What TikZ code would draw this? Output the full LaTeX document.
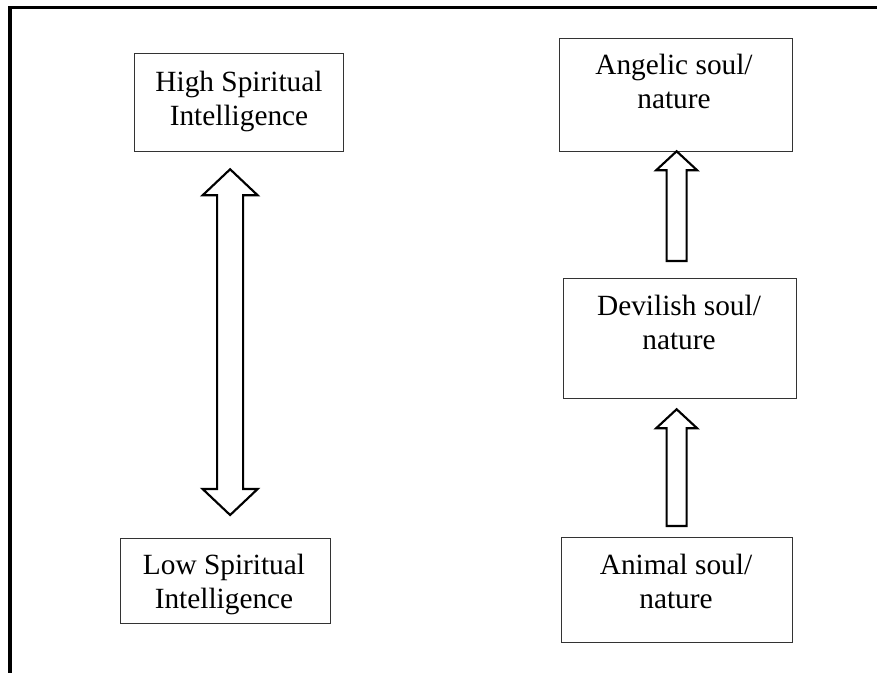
\documentclass[tikz,border=0pt]{standalone}
\usepackage{fontspec}
\setmainfont{Liberation Serif}
\usetikzlibrary{calc}

\tikzset{
  soulbox/.style={draw=black!80, line width=0.95pt, inner sep=0pt, anchor=north west},
  boxtext/.style={font=\fontsize{22}{25}\selectfont, align=center, inner sep=0pt, anchor=base},
  blockarrow/.style={draw=black, line width=1.6pt, line join=miter, fill=white},
  frameline/.style={draw=black, line width=2.3pt}
}

% upward block arrow: tail, tip, shaft half width, head half width, head length (px)
\newcommand\uparrowblock[5]{%
  \path[blockarrow] let \p1=#1, \p2=#2 in
    (\x1-#3*0.75pt,\y1) -- (\x1-#3*0.75pt,\y2-#5*0.75pt) -- (\x1-#4*0.75pt,\y2-#5*0.75pt)
    -- (\x2,\y2) -- (\x1+#4*0.75pt,\y2-#5*0.75pt) -- (\x1+#3*0.75pt,\y2-#5*0.75pt)
    -- (\x1+#3*0.75pt,\y1) -- cycle;}

% vertical double block arrow: lower tip, upper tip, shaft half width, head half width, head length (px)
\newcommand\updownarrowblock[5]{%
  \path[blockarrow] let \p1=#1, \p2=#2 in
    (\x2,\y2) -- (\x2+#4*0.75pt,\y2-#5*0.75pt) -- (\x2+#3*0.75pt,\y2-#5*0.75pt)
    -- (\x1+#3*0.75pt,\y1+#5*0.75pt) -- (\x1+#4*0.75pt,\y1+#5*0.75pt)
    -- (\x1,\y1) -- (\x1-#4*0.75pt,\y1+#5*0.75pt) -- (\x1-#3*0.75pt,\y1+#5*0.75pt)
    -- (\x2-#3*0.75pt,\y2-#5*0.75pt) -- (\x2-#4*0.75pt,\y2-#5*0.75pt) -- cycle;}

\begin{document}
\begin{tikzpicture}[x=0.75pt, y=-0.75pt]
  \useasboundingbox (0,0) rectangle (877,672);
  \clip (0,0) rectangle (877,672);

  % outer frame (only its top and left sides fall inside the page)
  \draw[frameline] (10,7.2) rectangle (900,700);

  % left column
  \node[soulbox, minimum width=209*0.75pt, minimum height=98*0.75pt] (hi) at (134,53) {};
  \node[boxtext] (hiT) at (239,125) {High Spiritual\\Intelligence};
  \node[soulbox, minimum width=210*0.75pt, minimum height=85*0.75pt] (lo) at (120,538) {};
  \node[boxtext] (loT) at (224,608) {Low Spiritual\\Intelligence};

  % right column
  \node[soulbox, minimum width=233*0.75pt, minimum height=113*0.75pt] (ang) at (559,38) {};
  \node[boxtext] (angT) at (674,108) {Angelic soul/\\nature};
  \node[soulbox, minimum width=233*0.75pt, minimum height=120*0.75pt] (dev) at (563,278) {};
  \node[boxtext] (devT) at (679,349) {Devilish soul/\\nature};
  \node[soulbox, minimum width=231*0.75pt, minimum height=105*0.75pt] (anm) at (561,537) {};
  \node[boxtext] (anmT) at (676,608) {Animal soul/\\nature};

  % connectors
  \updownarrowblock{($(lo.north)+(4.5,-23)$)}{($(hi.south)+(-9,17)$)}{13}{27.5}{26}
  \uparrowblock{($(anm.north)+(-0.5,-11)$)}{($(dev.south)+(-3.5,10)$)}{10}{20.5}{19}
  \uparrowblock{($(dev.north)+(-3.5,-17)$)}{($(ang.south)+(0.5,-1)$)}{10}{20.5}{19}
\end{tikzpicture}
\end{document}
